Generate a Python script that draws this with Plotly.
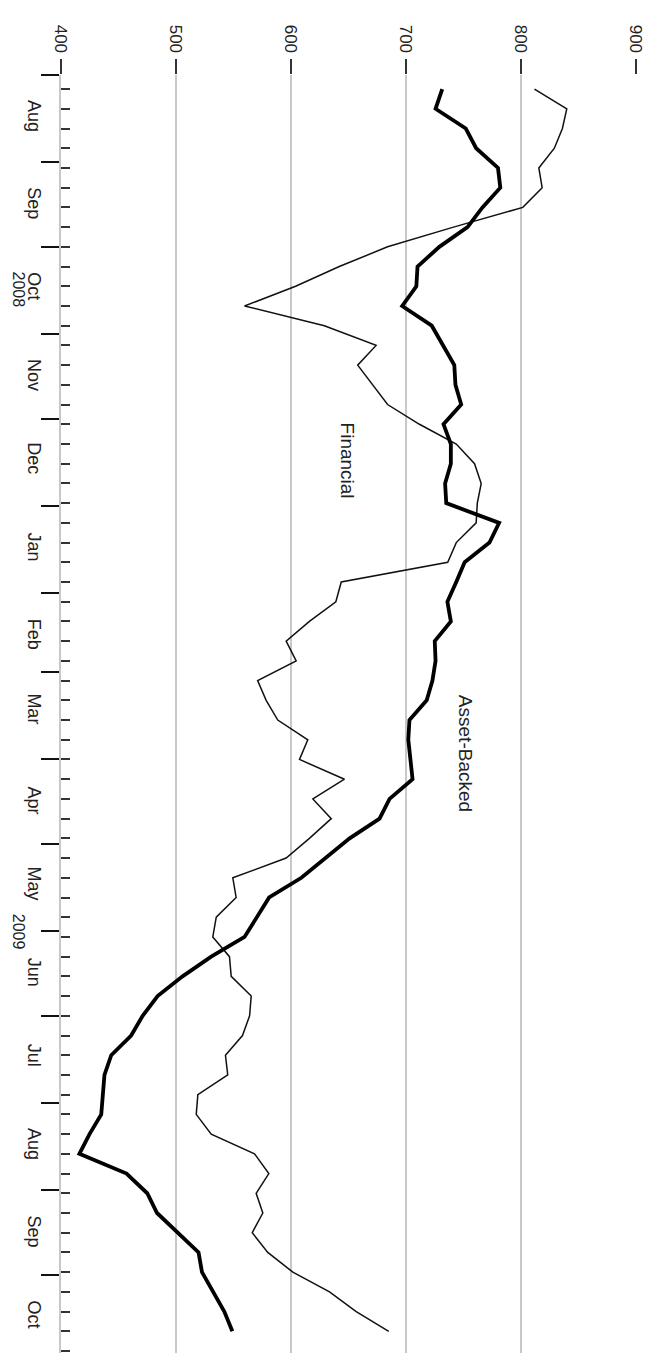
import pandas as pd
import plotly.graph_objects as go

# Weekly observation dates (Wednesdays)
dates = pd.date_range("2008-08-06", periods=64, freq="7D")

asset_backed = [
    731.5, 725.7, 752.0, 761.0, 780.0, 782.0, 766.5, 753.5, 729.0, 710.0,
    709.0, 696.7, 722.4, 732.6, 742.0, 743.0, 748.0, 732.6, 739.0, 739.0,
    734.0, 735.0, 781.0, 772.6, 751.0, 743.7, 736.0, 739.0, 725.0, 725.7,
    723.0, 718.0, 703.0, 702.0, 704.0, 705.7, 685.7, 677.0, 651.0, 630.6,
    609.0, 581.0, 570.0, 559.6, 530.6, 505.7, 484.0, 471.0, 461.0, 443.7,
    437.8, 436.5, 435.0, 424.8, 416.0, 457.0, 475.0, 483.5, 501.6, 519.6,
    522.6, 532.0, 542.0, 549.0,
]

financial = [
    811.7, 839.8, 836.0, 829.0, 815.5, 818.4, 801.6, 741.3, 684.0, 642.0,
    604.0, 559.6, 629.0, 674.0, 658.0, 671.0, 684.0, 711.7, 743.7, 759.6,
    765.4, 762.0, 761.0, 743.7, 736.3, 643.7, 639.0, 616.0, 595.8, 604.5,
    571.0, 578.4, 588.5, 614.6, 607.4, 646.5, 619.0, 635.0, 616.0, 595.8,
    549.4, 552.3, 535.0, 532.0, 546.5, 548.0, 565.4, 564.0, 557.8, 543.0,
    545.0, 519.0, 517.6, 530.6, 568.3, 580.7, 569.7, 575.5, 566.3, 579.8,
    601.6, 633.5, 656.7, 685.0,
]

value_ticks = [400, 500, 600, 700, 800, 900]
year_labels = ["2008", "2009"]
year_label_dates = ["2008-10-16", "2009-06-01"]

FONT = "Liberation Sans, Arial, Helvetica, sans-serif"

fig = go.Figure()
fig.add_trace(go.Scatter(
    x=financial, y=dates, mode="lines", name="Financial",
    line=dict(color="#111111", width=1.5), showlegend=False,
))
fig.add_trace(go.Scatter(
    x=asset_backed, y=dates, mode="lines", name="Asset-Backed",
    line=dict(color="#000000", width=3.8), showlegend=False,
))

fig.update_layout(
    width=648, height=1345,
    margin=dict(l=53, r=20, t=67, b=0),
    paper_bgcolor="white", plot_bgcolor="white",
    font=dict(family=FONT, color="#222222"),
    xaxis=dict(
        side="top", range=[400, 900], tickvals=value_ticks,
        tickangle=90, tickfont=dict(size=17, color="#222222"),
        ticks="outside", ticklen=15, tickwidth=2, tickcolor="#333333",
        showgrid=True, gridcolor="#c8c8c8", gridwidth=2,
        zeroline=False, showline=False,
    ),
    yaxis=dict(
        type="date", range=["2009-10-28 17:00", "2008-08-01"],
        tickmode="linear", tick0="2008-08-01", dtick="M1",
        ticklabelmode="period", tickformat="%b", tickangle=90,
        tickfont=dict(size=18, color="#222222"),
        ticklabelstandoff=-9,
        ticks="outside", ticklen=18, tickwidth=2, tickcolor="#111111",
        showline=True, linecolor="#c8c8c8", linewidth=2,
        showgrid=False, zeroline=False,
        minor=dict(ticks="inside", tick0="2008-08-06", dtick=7 * 86400000,
                   ticklen=9, tickwidth=2, tickcolor="#333333", showgrid=False),
    ),
)

for lbl, d in zip(year_labels, year_label_dates):
    fig.add_annotation(
        x=-0.0739, xref="paper", y=d, yref="y", text=lbl, showarrow=False,
        xanchor="center", yanchor="middle",
        textangle=90, font=dict(size=16, family=FONT, color="#222222"),
    )

fig.add_annotation(x=649, y="2008-12-16", xref="x", yref="y", text="Financial",
                   showarrow=False, textangle=90, xanchor="center", yanchor="middle",
                   font=dict(size=19, family=FONT, color="#222222"))
fig.add_annotation(x=751.3, y="2009-03-30", xref="x", yref="y", text="Asset-Backed",
                   showarrow=False, textangle=90, xanchor="center", yanchor="middle",
                   font=dict(size=19, family=FONT, color="#222222"))

fig.write_html("out.html")
